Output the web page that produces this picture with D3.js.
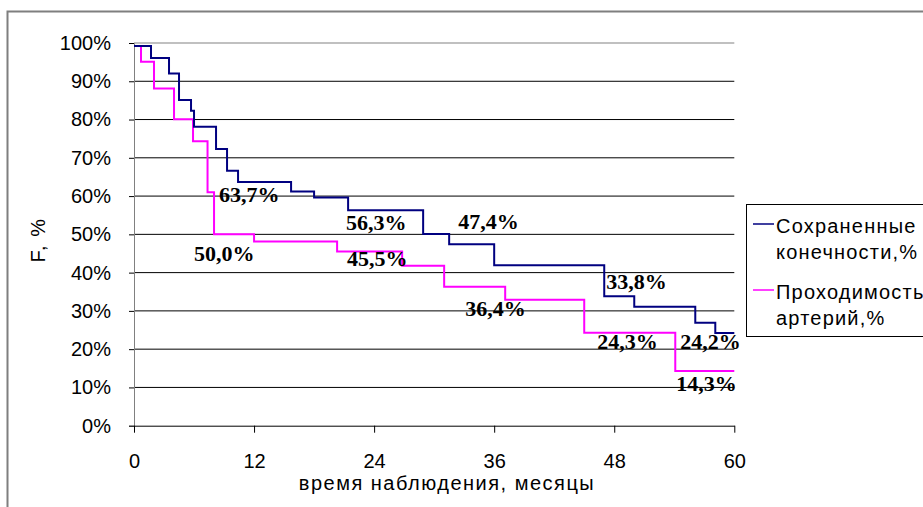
<!DOCTYPE html>
<html>
<head>
<meta charset="utf-8">
<script src="https://cdn.jsdelivr.net/npm/d3@7"></script>
<style>
  body { margin: 0; background: #fff; }
  svg { display: block; }
  .tick text { font-family: "Liberation Sans", Arial, sans-serif; font-size: 20px; fill: #000; }
</style>
</head>
<body>
<svg></svg>
<script>
// время (месяцы) и значения, %
let limbMonths = [0, 1.7, 3.5, 4.5, 5.7, 6.0, 8.2, 9.3, 10.4, 15.7, 18.0, 21.4, 28.9, 31.5, 36.0, 47.0, 50.0, 56.1, 58.1]
let limbValues = [99.2, 96.1, 92.0, 85.1, 82.3, 78.1, 72.3, 66.6, 63.7, 61.2, 59.6, 56.3, 50.1, 47.4, 41.9, 33.8, 31.1, 26.9, 24.2]

let arteryMonths = [0, 0.7, 2.0, 4.0, 5.9, 7.35, 8.0, 12.0, 20.3, 26.8, 31.0, 37.1, 45.0, 54.1]
let arteryValues = [99.2, 95.1, 88.1, 80.1, 74.3, 61.0, 50.0, 48.1, 45.5, 41.8, 36.3, 32.9, 24.3, 14.3]

let xTicks = [0, 12, 24, 36, 48, 60]
let yTicks = [0, 10, 20, 30, 40, 50, 60, 70, 80, 90, 100]

let labelText = ['63,7%', '50,0%', '56,3%', '45,5%', '47,4%', '36,4%', '33,8%', '24,3%', '24,2%', '14,3%']
let labelMonth = [8.5, 6.0, 21.2, 21.3, 32.4, 33.1, 47.2, 46.3, 54.6, 54.2]
let labelPct = [58.5, 43.0, 51.1, 41.7, 51.4, 28.7, 35.7, 20.0, 20.0, 9.1]

let seriesNames = [['Сохраненные', 'конечности,%'], ['Проходимость', 'артерий,%']]
let seriesColors = ['#000080', '#ff00ff']

let width = 923
let height = 507

let svg = d3.select('svg').attr('width', width).attr('height', height)

let xScale = d3.scaleLinear().domain([0, 60]).range([134, 734.3])
let yScale = d3.scaleLinear().domain([0, 100]).range([425.7, 43])

// outer frame
svg.append('rect')
    .attr('x', 7.5).attr('y', 11.5)
    .attr('width', 1000).attr('height', 600)
    .attr('fill', 'none').attr('stroke', '#7f7f7f').attr('stroke-width', 2)

// gridlines
svg.append('g').selectAll('line')
    .data(yTicks.filter(d => d > 0))
    .enter()
    .append('line')
    .attr('x1', xScale(0)).attr('x2', xScale(60))
    .attr('y1', d => yScale(d)).attr('y2', d => yScale(d))
    .attr('stroke', d => d == 100 ? '#c0c0c0' : '#000')
    .attr('stroke-width', d => d == 100 ? 2 : 1)

// axes
let yAxis = d3.axisLeft(yScale).tickValues(yTicks).tickFormat(d => d + '%').tickSize(5).tickPadding(18)
let gy = svg.append('g').attr('transform', 'translate(' + xScale(0) + ',0)').call(yAxis)
gy.select('.domain').attr('stroke', '#808080')
gy.selectAll('.tick line').attr('stroke', '#000')

let xAxis = d3.axisBottom(xScale).tickValues(xTicks).tickSize(7).tickPadding(21).tickSizeOuter(0)
let gx = svg.append('g').attr('transform', 'translate(0,' + yScale(0) + ')').call(xAxis)
gx.select('.domain').attr('stroke', '#000')

// step lines
let stepLine = d3.line()
    .x(d => xScale(d[0]))
    .y(d => yScale(d[1]))
    .curve(d3.curveStepAfter)

let makePoints = (months, values) => {
    let pts = months.map((m, i) => [m, values[i]])
    pts.push([60, values[values.length - 1]])
    return pts
}

svg.append('path')
    .attr('d', stepLine(makePoints(arteryMonths, arteryValues)))
    .attr('fill', 'none').attr('stroke', seriesColors[1]).attr('stroke-width', 2)

svg.append('path')
    .attr('d', stepLine(makePoints(limbMonths, limbValues)))
    .attr('fill', 'none').attr('stroke', seriesColors[0]).attr('stroke-width', 2)

// data labels
svg.append('g').selectAll('text')
    .data(labelText)
    .enter()
    .append('text')
    .attr('x', (d, i) => xScale(labelMonth[i]))
    .attr('y', (d, i) => yScale(labelPct[i]))
    .attr('font-family', '"Liberation Serif", "Times New Roman", serif')
    .attr('font-weight', 'bold')
    .attr('font-size', 22)
    .text(d => d)

// axis titles
svg.append('text')
    .attr('x', 447).attr('y', 490)
    .attr('text-anchor', 'middle')
    .attr('font-family', '"Liberation Sans", Arial, sans-serif')
    .attr('font-size', 20)
    .attr('letter-spacing', 1.5)
    .text('время наблюдения, месяцы')

svg.append('text')
    .attr('transform', 'translate(45,240) rotate(-90)')
    .attr('text-anchor', 'middle')
    .attr('font-family', '"Liberation Sans", Arial, sans-serif')
    .attr('font-size', 20)
    .attr('letter-spacing', 1.5)
    .text('F, %')

// legend
let legend = svg.append('g')
legend.append('rect')
    .attr('x', 746.5).attr('y', 204.5)
    .attr('width', 300).attr('height', 132)
    .attr('fill', '#fff').attr('stroke', '#000')

seriesNames.forEach((names, i) => {
    let top = 233 + i * 66
    legend.append('line')
        .attr('x1', 753).attr('x2', 774)
        .attr('y1', top - 9).attr('y2', top - 9)
        .attr('stroke', seriesColors[i]).attr('stroke-width', 1.5)
    names.forEach((t, j) => {
        legend.append('text')
            .attr('x', 776).attr('y', top + j * 26)
            .attr('font-family', '"Liberation Sans", Arial, sans-serif')
            .attr('font-size', 20)
            .attr('letter-spacing', 1.2)
            .text(t)
    })
})
</script>
</body>
</html>
